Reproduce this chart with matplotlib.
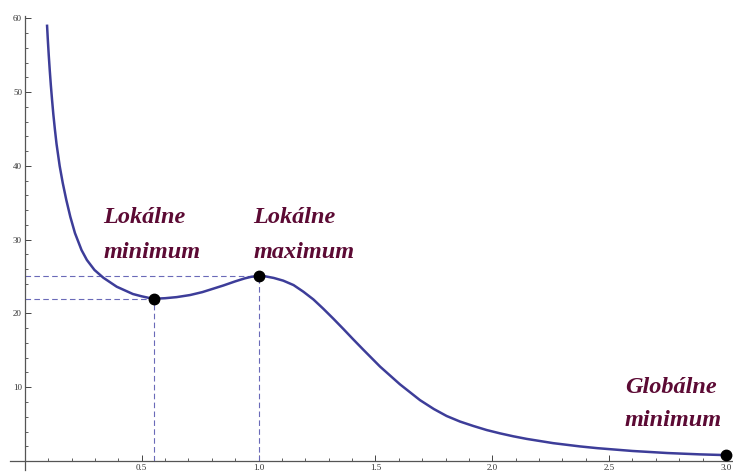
import numpy as np
import matplotlib.pyplot as plt
from matplotlib.ticker import FixedLocator

# values
x_vals = [0.0954, 0.0988, 0.1026, 0.1068, 0.1114, 0.1166, 0.1222, 0.1287, 0.1358, 0.1493,
          0.1624, 0.1776, 0.1949, 0.2147, 0.2428, 0.2658, 0.2982, 0.336, 0.3933, 0.4626,
          0.50, 0.536, 0.554, 0.60, 0.65, 0.707, 0.76, 0.80, 0.85, 0.90,
          0.94, 0.97, 1.003, 1.03, 1.065, 1.106, 1.15, 1.192, 1.235, 1.277,
          1.32, 1.363, 1.405, 1.448, 1.52, 1.605, 1.691, 1.75, 1.805, 1.862,
          1.919, 1.976, 2.033, 2.09, 2.147, 2.261, 2.375, 2.45, 2.60, 2.75,
          2.888, 3.0]
y_vals = [59.0, 57.0, 55.0, 53.0, 51.0, 49.0, 47.0, 45.0, 43.0, 40.0,
          37.7, 35.4, 33.1, 30.9, 28.6, 27.25, 25.9, 24.85, 23.63, 22.64,
          22.33, 22.08, 22.0, 22.07, 22.22, 22.5, 22.9, 23.3, 23.8, 24.35,
          24.75, 24.98, 25.08, 25.03, 24.82, 24.45, 23.85, 22.95, 21.9, 20.65,
          19.3, 17.9, 16.5, 15.1, 12.8, 10.4, 8.25, 7.05, 6.1, 5.35,
          4.75, 4.2, 3.75, 3.35, 3.0, 2.42, 1.98, 1.74, 1.36, 1.08,
          0.9, 0.8]

# marked extrema
pts_x = [0.554, 1.003, 3.0]
pts_y = [22.0, 25.08, 0.8]

# label text, position (x, baseline y)
labels = [("Lokálne", 0.335, 32.3), ("minimum", 0.335, 27.5),
          ("Lokálne", 0.978, 32.3), ("maximum", 0.978, 27.5),
          ("Globálne", 2.568, 9.2), ("minimum", 2.568, 4.8)]

x_ticks = [0.5, 1.0, 1.5, 2.0, 2.5, 3.0]
y_ticks = [10, 20, 30, 40, 50, 60]

curve_color = "#3d3d99"
dash_color = "#6a6ab8"
text_color = "#5c0a34"

fig = plt.figure(figsize=(7.33, 4.72), dpi=100)
ax = fig.add_axes([0, 0, 1, 1])
ax.set_xlim(-0.106, 3.030)
ax.set_ylim(-1.49, 62.5)

for s in ["top", "right"]:
    ax.spines[s].set_visible(False)
ax.spines["left"].set_position(("data", 0))
ax.spines["bottom"].set_position(("data", 0))
ax.spines["left"].set_bounds(-1.2, 60.3)
ax.spines["bottom"].set_bounds(-0.065, 3.03)
for s in ["left", "bottom"]:
    ax.spines[s].set_color("#555555")
    ax.spines[s].set_linewidth(0.9)

ax.set_xticks(x_ticks)
ax.set_xticklabels([f"{t:.1f}" for t in x_ticks])
ax.set_yticks(y_ticks)
ax.set_yticklabels([str(t) for t in y_ticks])
ax.xaxis.set_minor_locator(FixedLocator([i / 10 for i in range(1, 31) if i % 5]))
ax.yaxis.set_minor_locator(FixedLocator([i for i in range(2, 60, 2) if i % 10]))
ax.tick_params(which="both", direction="in", colors="#444444",
               labelsize=6.5, pad=2, labelcolor="#333333")
ax.tick_params(which="major", length=4, width=0.7)
ax.tick_params(which="minor", length=2, width=0.6)
for lab in ax.get_xticklabels() + ax.get_yticklabels():
    lab.set_family("Liberation Serif")

# dashed guides from the extrema to the axes
for px, py in zip(pts_x[:2], pts_y[:2]):
    ax.plot([0, px], [py, py], ls=(0, (5, 3)), color=dash_color, lw=0.8)
    ax.plot([px, px], [0, py], ls=(0, (5, 3)), color=dash_color, lw=0.8)

ax.plot(x_vals, y_vals, color=curve_color, lw=1.8, solid_joinstyle="round")
ax.plot(pts_x, pts_y, "o", color="black", ms=7.5, clip_on=False, zorder=5)

for txt, tx, ty in labels:
    ax.text(tx, ty, txt, family="Liberation Serif", style="italic",
            weight="bold", fontsize=17.5, color=text_color, va="baseline")

plt.savefig("out.png", dpi=100)
